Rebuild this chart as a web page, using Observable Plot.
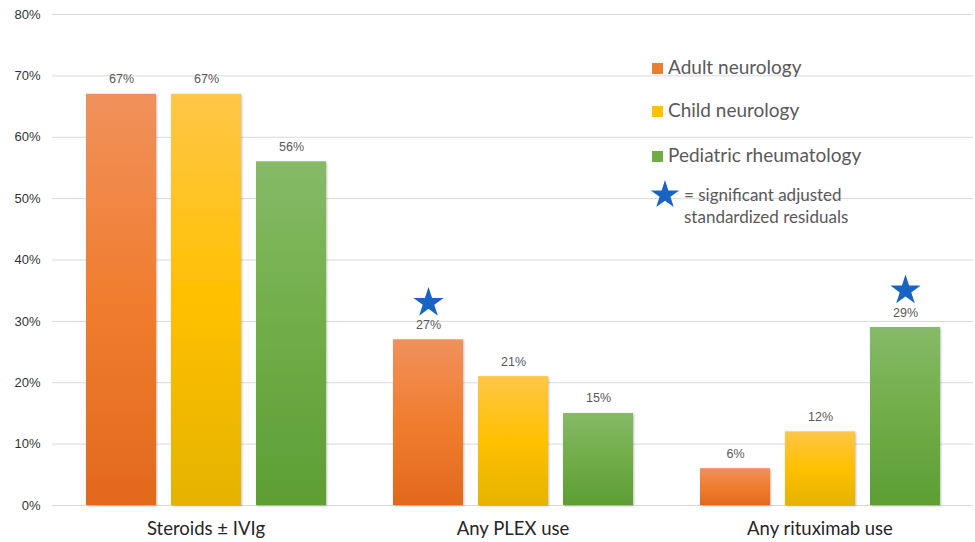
<!DOCTYPE html>
<html><head><meta charset="utf-8">
<script src="https://cdn.jsdelivr.net/npm/d3@7"></script>
<script src="https://cdn.jsdelivr.net/npm/@observablehq/plot@0.6"></script>
<style>
body{margin:0;background:#fff}
#wrap{position:relative;width:975px;height:542px}
.leg{position:absolute;font-family:Lato,"Open Sans",sans-serif;color:#595959;white-space:nowrap}
.leg .sw{position:absolute;width:11px;height:11px}
.leg .lab{position:absolute;font-size:19px;line-height:22px}
.leg .note{position:absolute;font-size:17px;line-height:22px}
</style>
</head><body><div id="wrap"></div>
<script>
const treatments = ["Steroids ± IVIg", "Any PLEX use", "Any rituximab use"];
const groups = ["Adult neurology", "Child neurology", "Pediatric rheumatology"];
const adultNeurology = [67, 27, 6];
const childNeurology = [67, 21, 12];
const pediatricRheumatology = [56, 15, 29];
const significant = [["Any PLEX use", "Adult neurology"], ["Any rituximab use", "Pediatric rheumatology"]];
const yTicks = [0, 10, 20, 30, 40, 50, 60, 70, 80];
const noteLines = ["= significant adjusted", "standardized residuals"];

const legendColors = ["#ed7d31", "#ffc000", "#70ad47"];
const gradStops = [
  ["#f0915c", "#f07d2e", "#e2691d"],
  ["#ffc648", "#ffc000", "#e5b300"],
  ["#86ba68", "#70ad47", "#5d9e34"]
];

const seriesValues = [adultNeurology, childNeurology, pediatricRheumatology];
const data = [];
treatments.forEach((t, i) => groups.forEach((g, j) => {
  data.push({treatment: t, group: g, value: seriesValues[j][i],
    sig: significant.some(([st, sg]) => st === t && sg === g)});
}));

const chart = Plot.plot({
  width: 975, height: 542,
  marginTop: 14, marginBottom: 37, marginLeft: 52, marginRight: 2,
  style: {background: "#fff"},
  fx: {domain: treatments, padding: 0, axis: null},
  x: {domain: groups, paddingInner: 0.18, paddingOuter: 0.39, axis: null},
  y: {domain: [0, 80], axis: null},
  color: {domain: groups, range: groups.map((_, i) => `url(#grad${i})`)},
  marks: [
    Plot.gridY(yTicks, {stroke: "#d9d9d9", strokeOpacity: 1, strokeWidth: 1}),
    Plot.axisY(yTicks, {tickSize: 0, tickPadding: 12, tickFormat: d => d + "%", fontSize: 13,
      fill: "#333", fontFamily: "'Liberation Sans', Arial, sans-serif", label: null}),
    Plot.axisFx({anchor: "bottom", tickSize: 0, tickPadding: 16, fontSize: 18.5, label: null,
      fill: "#262626", fontFamily: "Lato, 'Open Sans', sans-serif"}),
    Plot.barY(data, {fx: "treatment", x: "group", y: "value", fill: "group"}),
    Plot.text(data, {fx: "treatment", x: "group", y: "value", text: d => d.value + "%", dy: -15,
      fontSize: 12.5, fill: "#595959", fontFamily: "'Liberation Sans', Arial, sans-serif"}),
    Plot.dot(data.filter(d => d.sig), {fx: "treatment", x: "group", y: "value", symbol: "star",
      r: 9.5, fill: "#1764c4", stroke: "none", dy: -37})
  ]
});

const svg = d3.select(chart);
const defs = svg.insert("defs", ":first-child");
gradStops.forEach((stops, i) => {
  const lg = defs.append("linearGradient").attr("id", `grad${i}`)
    .attr("x1", 0).attr("y1", 0).attr("x2", 0).attr("y2", 1);
  stops.forEach((c, k) => lg.append("stop").attr("offset", k / (stops.length - 1)).attr("stop-color", c));
});
const f = defs.append("filter").attr("id", "shadow").attr("x", "-10%").attr("y", "-10%").attr("width", "130%").attr("height", "130%");
f.append("feDropShadow").attr("dx", 1).attr("dy", 1).attr("stdDeviation", 1.2).attr("flood-color", "#000").attr("flood-opacity", 0.25);
svg.selectAll("g[aria-label='bar'] rect").attr("filter", "url(#shadow)");

const wrap = document.getElementById("wrap");
wrap.appendChild(chart);

const leg = document.createElement("div");
leg.className = "leg";
leg.style.left = "0px"; leg.style.top = "0px";
const rows = [68, 111, 156];
groups.forEach((g, i) => {
  const sw = document.createElement("div");
  sw.className = "sw";
  sw.style.left = "652px"; sw.style.top = (rows[i] - 5) + "px";
  sw.style.background = legendColors[i];
  leg.appendChild(sw);
  const lab = document.createElement("div");
  lab.className = "lab";
  lab.style.left = "668px"; lab.style.top = (rows[i] - 12) + "px";
  lab.textContent = g;
  leg.appendChild(lab);
});
const starSvg = d3.create("svg").attr("width", 30).attr("height", 30)
  .style("position", "absolute").style("left", "650px").style("top", "179px");
starSvg.append("path").attr("transform", "translate(15,16)")
  .attr("d", d3.symbol(d3.symbolStar, 250)()).attr("fill", "#1764c4");
leg.appendChild(starSvg.node());
noteLines.forEach((t, i) => {
  const n = document.createElement("div");
  n.className = "note";
  n.style.left = "684px"; n.style.top = (184 + i * 22) + "px";
  n.textContent = t;
  leg.appendChild(n);
});
wrap.appendChild(leg);
</script>
</body></html>
